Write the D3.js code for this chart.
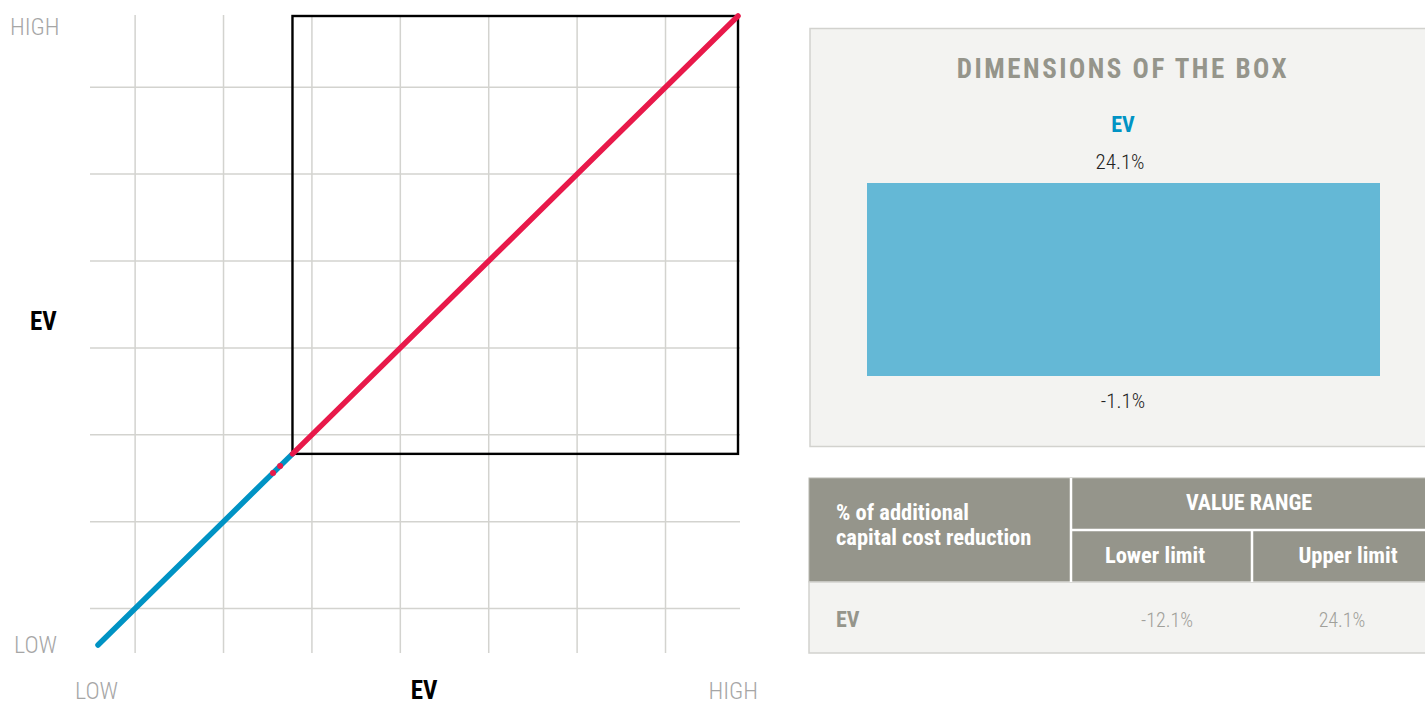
<!DOCTYPE html>
<html>
<head>
<meta charset="utf-8">
<script src="https://cdn.jsdelivr.net/npm/d3@7"></script>
<style>
  html, body { margin: 0; padding: 0; background: #fff; }
  svg { display: block; }
  text { font-family: 'Roboto Condensed', 'Liberation Sans Narrow', 'DejaVu Sans Condensed', 'Roboto', sans-serif; }
</style>
</head>
<body>
<svg id="chart" width="1425" height="704"></svg>
<script>
// ---- data ----
const lineDomain = [-12.1, 24.1];          // full range of the EV value
const boxRange = [-1.1, 24.1];             // dimensions of the box
const gridTicks = [-10, -5, 0, 5, 10, 15, 20];
const blueSegment = [-12.1, -1.1];
const redSegment = [-1.1, 24.1];
const redDots = [-2.2, -1.8];
const tableHeader = ["% of additional", "capital cost reduction"];
const rangeHeader = "VALUE RANGE";
const limitHeaders = ["Lower limit", "Upper limit"];
const tableRows = [{ name: "EV", lower: "-12.1%", upper: "24.1%" }];

const svg = d3.select("#chart");

// ---- colours ----
const BLUE = "#0093c4", RED = "#e8194a", GRID = "#d3d3cf", GREYTXT = "#a6a6a6";
const PANEL = "#f3f3f1", PANELBORDER = "#d2d2ce", HEAD = "#95958b";

// ---- left chart scales ----
const x = d3.scaleLinear().domain(lineDomain).range([98, 738]);
const y = d3.scaleLinear().domain(lineDomain).range([645, 16]);
const gridLeft = 90, gridRight = 740, gridTop = 15, gridBottom = 653;

const grid = svg.append("g");
grid.selectAll("line.v").data(gridTicks).join("line")
  .attr("x1", d => x(d)).attr("x2", d => x(d))
  .attr("y1", gridTop).attr("y2", gridBottom)
  .attr("stroke", GRID).attr("stroke-width", 1.5);
grid.selectAll("line.h").data(gridTicks).join("line")
  .attr("y1", d => y(d)).attr("y2", d => y(d))
  .attr("x1", gridLeft).attr("x2", gridRight)
  .attr("stroke", GRID).attr("stroke-width", 1.5);

// box
svg.append("rect")
  .attr("x", x(boxRange[0])).attr("y", y(boxRange[1]))
  .attr("width", x(boxRange[1]) - x(boxRange[0]))
  .attr("height", y(boxRange[0]) - y(boxRange[1]))
  .attr("fill", "none").attr("stroke", "#000").attr("stroke-width", 2.4);

const line = d3.line().x(d => x(d)).y(d => y(d));
svg.append("path").datum(blueSegment).attr("d", line)
  .attr("stroke", BLUE).attr("stroke-width", 5.5).attr("stroke-linecap", "round").attr("fill", "none");
svg.selectAll("circle.rd").data(redDots).join("circle")
  .attr("cx", d => x(d)).attr("cy", d => y(d)).attr("r", 3).attr("fill", RED);
svg.append("path").datum(redSegment).attr("d", line)
  .attr("stroke", RED).attr("stroke-width", 5.5).attr("stroke-linecap", "round").attr("fill", "none");

// text helper
const lbl = (tx, ty, t, opts = {}) => svg.append("text")
  .attr("x", tx).attr("y", ty).text(t)
  .attr("text-anchor", opts.anchor || "start")
  .attr("font-size", opts.size || 24)
  .attr("font-weight", opts.weight || 300)
  .attr("fill", opts.fill || GREYTXT)
  .attr("letter-spacing", opts.ls || 0);

// axis labels
lbl(10, 35, "HIGH");
lbl(14, 653, "LOW");
lbl(30, 330, "EV", { weight: 700, fill: "#000", size: 25 });
lbl(75, 699, "LOW");
lbl(424, 699, "EV", { anchor: "middle", weight: 700, fill: "#000", size: 25 });
lbl(758, 699, "HIGH", { anchor: "end" });

// ---- right panel: dimensions of the box ----
svg.append("rect").attr("x", 810).attr("y", 28.5).attr("width", 640).attr("height", 418)
  .attr("fill", PANEL).attr("stroke", PANELBORDER).attr("stroke-width", 1.5);
lbl(1123, 78, "DIMENSIONS OF THE BOX", { anchor: "middle", weight: 700, fill: HEAD, size: 27, ls: 2.5 });
lbl(1123, 132, "EV", { anchor: "middle", weight: 700, fill: BLUE, size: 22 });

const barY = d3.scaleLinear().domain(boxRange).range([376, 183]);
svg.append("rect")
  .attr("x", 867).attr("width", 513)
  .attr("y", barY(boxRange[1])).attr("height", barY(boxRange[0]) - barY(boxRange[1]))
  .attr("fill", "#64b8d6");
lbl(1120, 169, boxRange[1].toFixed(1) + "%", { anchor: "middle", fill: "#222", size: 21 });
lbl(1123, 408, boxRange[0].toFixed(1) + "%", { anchor: "middle", fill: "#222", size: 21 });

// ---- table ----
const tx0 = 809, tCol1 = 1071, tCol2 = 1252, tx1 = 1440;
const tTop = 478, tMid = 530, tHeadBottom = 582, tBottom = 653;
svg.append("rect").attr("x", tx0).attr("y", tTop).attr("width", tx1 - tx0).attr("height", tHeadBottom - tTop)
  .attr("fill", HEAD).attr("stroke", "#b8b8b0").attr("stroke-width", 1);
svg.append("rect").attr("x", tx0).attr("y", tHeadBottom).attr("width", tx1 - tx0).attr("height", tBottom - tHeadBottom)
  .attr("fill", PANEL).attr("stroke", PANELBORDER).attr("stroke-width", 1.5);
svg.append("line").attr("x1", tCol1).attr("x2", tCol1).attr("y1", tTop).attr("y2", tHeadBottom)
  .attr("stroke", "#fff").attr("stroke-width", 2.5);
svg.append("line").attr("x1", tCol1).attr("x2", tx1).attr("y1", tMid).attr("y2", tMid)
  .attr("stroke", "#fff").attr("stroke-width", 2.5);
svg.append("line").attr("x1", tCol2).attr("x2", tCol2).attr("y1", tMid).attr("y2", tHeadBottom)
  .attr("stroke", "#fff").attr("stroke-width", 2.5);

tableHeader.forEach((t, i) => lbl(836, 520 + i * 25, t, { weight: 700, fill: "#fff", size: 22.5 }));
lbl(1249, 510, rangeHeader, { anchor: "middle", weight: 700, fill: "#fff", size: 22 });
lbl(1155, 563, limitHeaders[0], { anchor: "middle", weight: 700, fill: "#fff", size: 22.5 });
lbl(1348, 563, limitHeaders[1], { anchor: "middle", weight: 700, fill: "#fff", size: 22.5 });

tableRows.forEach((r, i) => {
  const ry = 627 + i * 70;
  lbl(836, ry, r.name, { weight: 700, fill: HEAD, size: 22 });
  lbl(1167, ry, r.lower, { anchor: "middle", fill: "#a0a09a", size: 20 });
  lbl(1342, ry, r.upper, { anchor: "middle", fill: "#a0a09a", size: 20 });
});
</script>
</body>
</html>
